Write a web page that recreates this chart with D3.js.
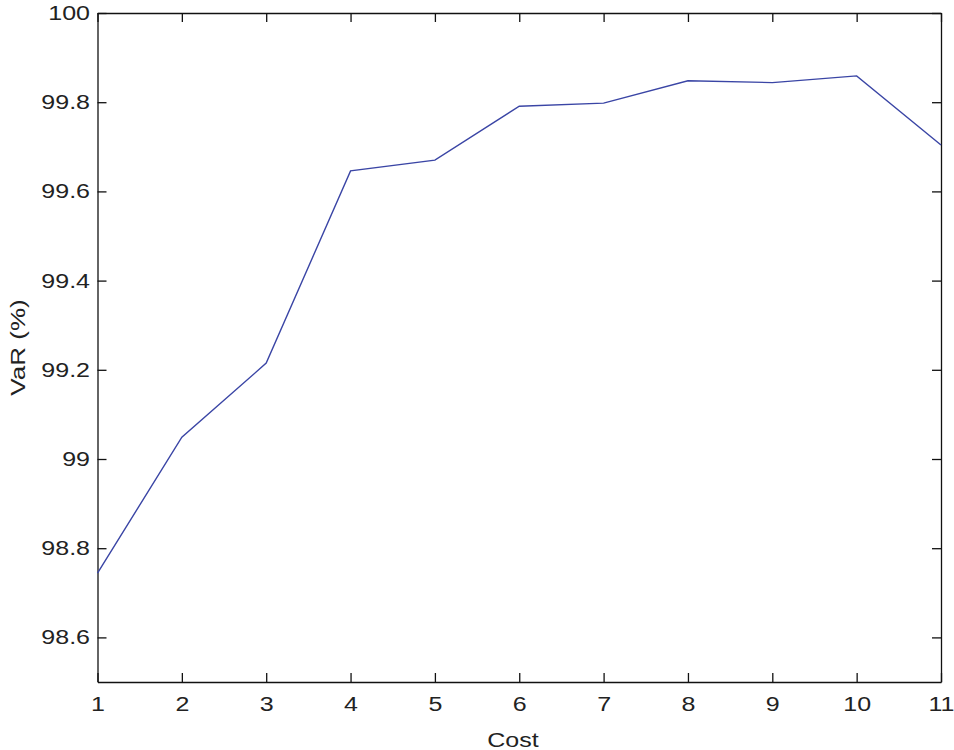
<!DOCTYPE html>
<html>
<head>
<meta charset="utf-8">
<script src="https://cdn.jsdelivr.net/npm/d3@7"></script>
<style>
  body { margin: 0; background: #fff; }
  text { font-family: "Liberation Sans", Arial, sans-serif; fill: #222; }
</style>
</head>
<body>
<div id="chart"></div>
<script>
// Chart data
const costs = [1, 2, 3, 4, 5, 6, 7, 8, 9, 10, 11];
const varValues = [98.744, 99.049, 99.215, 99.646, 99.670, 99.791, 99.798, 99.848, 99.844, 99.859, 99.704];
const yTicks = [98.6, 98.8, 99, 99.2, 99.4, 99.6, 99.8, 100];
const yTickLabels = ['98.6', '98.8', '99', '99.2', '99.4', '99.6', '99.8', '100'];

const width = 954, height = 750;
const margin = { top: 13, right: 13, bottom: 68, left: 97.5 };
const fontSize = 20;
const stretch = 1.25; // the original text is horizontally wide

const svg = d3.select('#chart')
    .append('svg')
    .attr('width', width)
    .attr('height', height);

const x = d3.scaleLinear()
    .domain([1, 11])
    .range([margin.left, width - margin.right]);

const y = d3.scaleLinear()
    .domain([98.5, 100])
    .range([height - margin.bottom, margin.top]);

const tickLen = 9;

// Bottom axis (ticks pointing inward)
const xAxis = svg.append('g')
    .attr('transform', `translate(0,${height - margin.bottom})`)
    .call(d3.axisBottom(x).tickValues(costs).tickFormat(d3.format('d'))
        .tickSizeInner(-tickLen).tickSizeOuter(0).tickPadding(15));

// Top axis
svg.append('g')
    .attr('transform', `translate(0,${margin.top})`)
    .call(d3.axisTop(x).tickValues(costs).tickFormat('')
        .tickSizeInner(-tickLen).tickSizeOuter(0));

// Left axis
const yAxis = svg.append('g')
    .attr('transform', `translate(${margin.left},0)`)
    .call(d3.axisLeft(y).tickValues(yTicks).tickFormat((d, i) => yTickLabels[i])
        .tickSizeInner(-tickLen).tickSizeOuter(0).tickPadding(7.5));

// Right axis
svg.append('g')
    .attr('transform', `translate(${width - margin.right},0)`)
    .call(d3.axisRight(y).tickValues(yTicks).tickFormat('')
        .tickSizeInner(-tickLen).tickSizeOuter(0));

svg.selectAll('.domain').attr('stroke', '#111').attr('stroke-width', 1.3);
svg.selectAll('.tick line').attr('stroke', '#111').attr('stroke-width', 1.3);
svg.selectAll('.tick text')
    .style('font-family', '"Liberation Sans", Arial, sans-serif')
    .style('font-size', fontSize + 'px')
    .attr('fill', '#222');

// widen tick labels around their anchor
xAxis.selectAll('.tick text')
    .attr('transform', `scale(${stretch},1)`);
yAxis.selectAll('.tick text')
    .attr('x', 0)
    .attr('transform', `translate(-7.5,0) scale(${stretch},1)`);

// Line
const line = d3.line()
    .x((d, i) => x(costs[i]))
    .y(d => y(d));

svg.append('path')
    .datum(varValues)
    .attr('fill', 'none')
    .attr('stroke', '#3a45a5')
    .attr('stroke-width', 1.4)
    .attr('d', line);

// Axis labels
svg.append('text')
    .attr('transform', `translate(513,747) scale(${stretch},1)`)
    .attr('text-anchor', 'middle')
    .style('font-size', fontSize + 'px')
    .text('Cost');

svg.append('text')
    .attr('transform', `translate(25,${(margin.top + height - margin.bottom) / 2}) rotate(-90) scale(1.3,1)`)
    .attr('text-anchor', 'middle')
    .style('font-size', fontSize + 'px')
    .text('VaR (%)');
</script>
</body>
</html>
